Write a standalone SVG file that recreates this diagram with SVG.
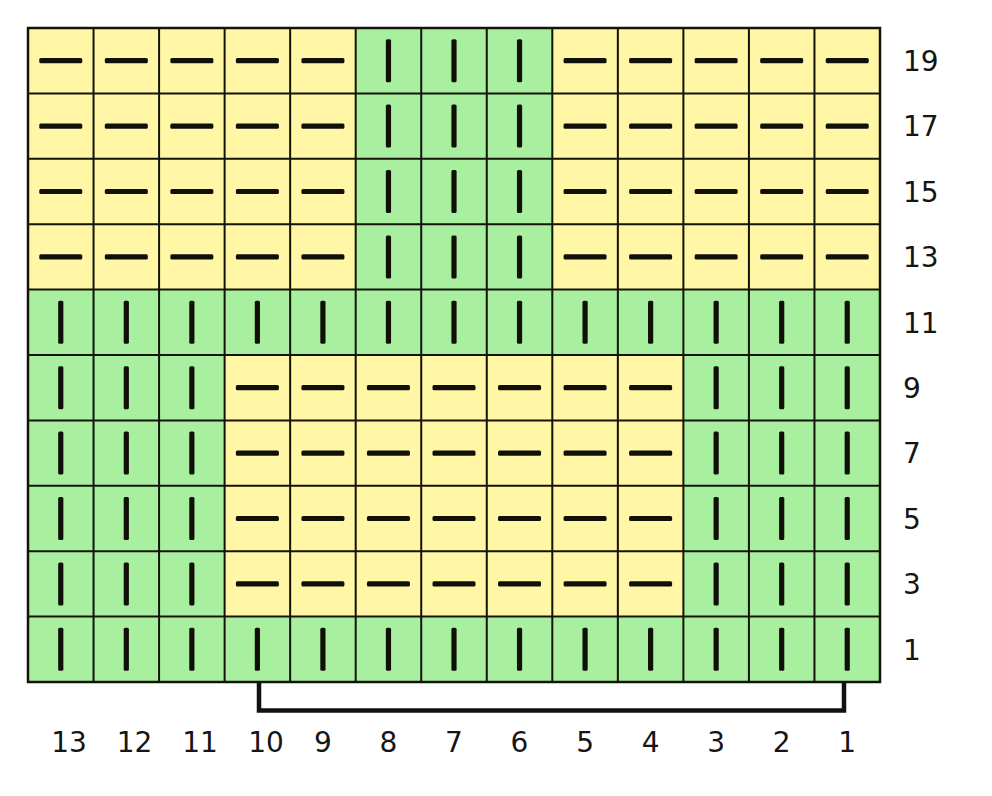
<svg xmlns="http://www.w3.org/2000/svg" xmlns:xlink="http://www.w3.org/1999/xlink" width="992" height="796" viewBox="0 0 992 796">
<style>
.y{fill:#fff6a6}
.g{fill:#a8f0a0}
.grid{stroke:#141408;stroke-width:2;fill:none}
.lbl{font-family:"DejaVu Sans","Liberation Sans",sans-serif;font-size:28px;fill:#151515}
.br{stroke:#111;stroke-width:4.5;fill:none}
</style>
<defs>
<rect id="d" x="-21.5" y="-2.6" width="43" height="5.2" rx="1.5" fill="#101008"/>
<rect id="b" x="-2.6" y="-21.5" width="5.2" height="43" rx="1.5" fill="#101008"/>
</defs>
<rect width="992" height="796" fill="#fff"/>
<g id="fills">
<rect class="g" x="28" y="28" width="852" height="654"/>
<rect class="y" x="28" y="28" width="327.7" height="261.6"/>
<rect class="y" x="552.3" y="28" width="327.7" height="261.6"/>
<rect class="y" x="224.6" y="355" width="458.8" height="261.6"/>
</g>
<g id="gridlines" class="grid">
<rect x="28" y="28" width="852" height="654" stroke-width="2.5"/>
<path d="M93.54 28V682M159.08 28V682M224.62 28V682M290.15 28V682M355.69 28V682M421.23 28V682M486.77 28V682M552.31 28V682M617.85 28V682M683.38 28V682M748.92 28V682M814.46 28V682"/>
<path d="M28 93.4H880M28 158.8H880M28 224.2H880M28 289.6H880M28 355H880M28 420.4H880M28 485.8H880M28 551.2H880M28 616.6H880"/>
</g>
<g id="row19">
<use href="#d" x="60.77" y="60.7"/><use href="#d" x="126.31" y="60.7"/><use href="#d" x="191.85" y="60.7"/><use href="#d" x="257.38" y="60.7"/><use href="#d" x="322.92" y="60.7"/>
<use href="#b" x="388.46" y="60.7"/><use href="#b" x="454" y="60.7"/><use href="#b" x="519.54" y="60.7"/>
<use href="#d" x="585.08" y="60.7"/><use href="#d" x="650.62" y="60.7"/><use href="#d" x="716.15" y="60.7"/><use href="#d" x="781.69" y="60.7"/><use href="#d" x="847.23" y="60.7"/>
</g>
<g id="row17">
<use href="#d" x="60.77" y="126.1"/><use href="#d" x="126.31" y="126.1"/><use href="#d" x="191.85" y="126.1"/><use href="#d" x="257.38" y="126.1"/><use href="#d" x="322.92" y="126.1"/>
<use href="#b" x="388.46" y="126.1"/><use href="#b" x="454" y="126.1"/><use href="#b" x="519.54" y="126.1"/>
<use href="#d" x="585.08" y="126.1"/><use href="#d" x="650.62" y="126.1"/><use href="#d" x="716.15" y="126.1"/><use href="#d" x="781.69" y="126.1"/><use href="#d" x="847.23" y="126.1"/>
</g>
<g id="row15">
<use href="#d" x="60.77" y="191.5"/><use href="#d" x="126.31" y="191.5"/><use href="#d" x="191.85" y="191.5"/><use href="#d" x="257.38" y="191.5"/><use href="#d" x="322.92" y="191.5"/>
<use href="#b" x="388.46" y="191.5"/><use href="#b" x="454" y="191.5"/><use href="#b" x="519.54" y="191.5"/>
<use href="#d" x="585.08" y="191.5"/><use href="#d" x="650.62" y="191.5"/><use href="#d" x="716.15" y="191.5"/><use href="#d" x="781.69" y="191.5"/><use href="#d" x="847.23" y="191.5"/>
</g>
<g id="row13">
<use href="#d" x="60.77" y="256.9"/><use href="#d" x="126.31" y="256.9"/><use href="#d" x="191.85" y="256.9"/><use href="#d" x="257.38" y="256.9"/><use href="#d" x="322.92" y="256.9"/>
<use href="#b" x="388.46" y="256.9"/><use href="#b" x="454" y="256.9"/><use href="#b" x="519.54" y="256.9"/>
<use href="#d" x="585.08" y="256.9"/><use href="#d" x="650.62" y="256.9"/><use href="#d" x="716.15" y="256.9"/><use href="#d" x="781.69" y="256.9"/><use href="#d" x="847.23" y="256.9"/>
</g>
<g id="row11">
<use href="#b" x="60.77" y="322.3"/><use href="#b" x="126.31" y="322.3"/><use href="#b" x="191.85" y="322.3"/><use href="#b" x="257.38" y="322.3"/><use href="#b" x="322.92" y="322.3"/>
<use href="#b" x="388.46" y="322.3"/><use href="#b" x="454" y="322.3"/><use href="#b" x="519.54" y="322.3"/>
<use href="#b" x="585.08" y="322.3"/><use href="#b" x="650.62" y="322.3"/><use href="#b" x="716.15" y="322.3"/><use href="#b" x="781.69" y="322.3"/><use href="#b" x="847.23" y="322.3"/>
</g>
<g id="row9">
<use href="#b" x="60.77" y="387.7"/><use href="#b" x="126.31" y="387.7"/><use href="#b" x="191.85" y="387.7"/>
<use href="#d" x="257.38" y="387.7"/><use href="#d" x="322.92" y="387.7"/><use href="#d" x="388.46" y="387.7"/><use href="#d" x="454" y="387.7"/><use href="#d" x="519.54" y="387.7"/><use href="#d" x="585.08" y="387.7"/><use href="#d" x="650.62" y="387.7"/>
<use href="#b" x="716.15" y="387.7"/><use href="#b" x="781.69" y="387.7"/><use href="#b" x="847.23" y="387.7"/>
</g>
<g id="row7">
<use href="#b" x="60.77" y="453.1"/><use href="#b" x="126.31" y="453.1"/><use href="#b" x="191.85" y="453.1"/>
<use href="#d" x="257.38" y="453.1"/><use href="#d" x="322.92" y="453.1"/><use href="#d" x="388.46" y="453.1"/><use href="#d" x="454" y="453.1"/><use href="#d" x="519.54" y="453.1"/><use href="#d" x="585.08" y="453.1"/><use href="#d" x="650.62" y="453.1"/>
<use href="#b" x="716.15" y="453.1"/><use href="#b" x="781.69" y="453.1"/><use href="#b" x="847.23" y="453.1"/>
</g>
<g id="row5">
<use href="#b" x="60.77" y="518.5"/><use href="#b" x="126.31" y="518.5"/><use href="#b" x="191.85" y="518.5"/>
<use href="#d" x="257.38" y="518.5"/><use href="#d" x="322.92" y="518.5"/><use href="#d" x="388.46" y="518.5"/><use href="#d" x="454" y="518.5"/><use href="#d" x="519.54" y="518.5"/><use href="#d" x="585.08" y="518.5"/><use href="#d" x="650.62" y="518.5"/>
<use href="#b" x="716.15" y="518.5"/><use href="#b" x="781.69" y="518.5"/><use href="#b" x="847.23" y="518.5"/>
</g>
<g id="row3">
<use href="#b" x="60.77" y="583.9"/><use href="#b" x="126.31" y="583.9"/><use href="#b" x="191.85" y="583.9"/>
<use href="#d" x="257.38" y="583.9"/><use href="#d" x="322.92" y="583.9"/><use href="#d" x="388.46" y="583.9"/><use href="#d" x="454" y="583.9"/><use href="#d" x="519.54" y="583.9"/><use href="#d" x="585.08" y="583.9"/><use href="#d" x="650.62" y="583.9"/>
<use href="#b" x="716.15" y="583.9"/><use href="#b" x="781.69" y="583.9"/><use href="#b" x="847.23" y="583.9"/>
</g>
<g id="row1">
<use href="#b" x="60.77" y="649.3"/><use href="#b" x="126.31" y="649.3"/><use href="#b" x="191.85" y="649.3"/><use href="#b" x="257.38" y="649.3"/><use href="#b" x="322.92" y="649.3"/>
<use href="#b" x="388.46" y="649.3"/><use href="#b" x="454" y="649.3"/><use href="#b" x="519.54" y="649.3"/>
<use href="#b" x="585.08" y="649.3"/><use href="#b" x="650.62" y="649.3"/><use href="#b" x="716.15" y="649.3"/><use href="#b" x="781.69" y="649.3"/><use href="#b" x="847.23" y="649.3"/>
</g>
<g id="connectors">
<path class="br" d="M259 682V710.5H844V682"/>
</g>
<g id="rowlabels" class="lbl">
<text x="903" y="71">19</text>
<text x="903" y="136.4">17</text>
<text x="903" y="201.8">15</text>
<text x="903" y="267.2">13</text>
<text x="903" y="332.6">11</text>
<text x="903" y="398">9</text>
<text x="903" y="463.4">7</text>
<text x="903" y="528.8">5</text>
<text x="903" y="594.2">3</text>
<text x="903" y="659.6">1</text>
</g>
<g id="collabels" class="lbl" text-anchor="middle">
<text x="69" y="752">13</text>
<text x="134.5" y="752">12</text>
<text x="200" y="752">11</text>
<text x="266" y="752">10</text>
<text x="322.9" y="752">9</text>
<text x="388.5" y="752">8</text>
<text x="454" y="752">7</text>
<text x="519.5" y="752">6</text>
<text x="585.1" y="752">5</text>
<text x="650.6" y="752">4</text>
<text x="716.2" y="752">3</text>
<text x="781.7" y="752">2</text>
<text x="847.2" y="752">1</text>
</g>
</svg>
